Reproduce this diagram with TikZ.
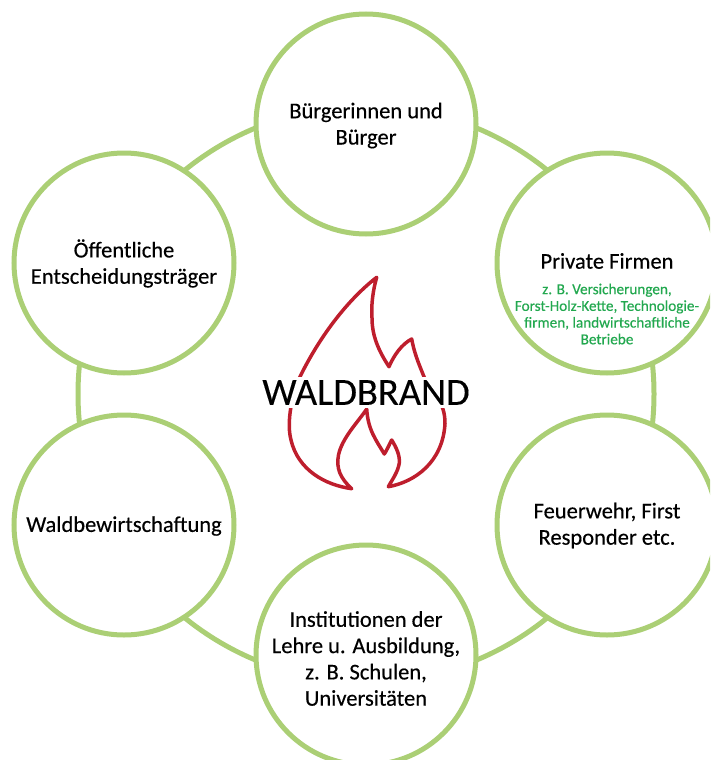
\documentclass[tikz,border=0pt]{standalone}
\usepackage{fontspec}
\setmainfont{Carlito}
\newfontfamily\medfont[FakeBold=0.35]{Carlito}
\newfontfamily\titlefont[FakeBold=0.2]{Carlito}
\definecolor{ringgreen}{HTML}{ABCF75}
\definecolor{textgreen}{HTML}{22A84F}
\definecolor{flamered}{HTML}{BE1E2D}
\tikzset{
  actor/.style={circle,draw=ringgreen,line width=5pt,fill=white,minimum size=220pt,inner sep=0pt},
  caption/.style={align=center,inner sep=0pt,text=black,font=\medfont\fontsize{22.5}{26.3}\selectfont},
  ring/.style={circle,draw=ringgreen,line width=5pt,minimum size=576pt,inner sep=0pt},
  flame/.style={draw=flamered,line width=3.5pt,line join=round},
  title/.style={fill=white,inner xsep=0pt,inner ysep=0pt,minimum width=206pt,minimum height=31pt,font=\titlefont\fontsize{38.5}{38.5}\selectfont,text=black},
  sub/.style={align=center,inner sep=0pt,text=textgreen,font=\medfont\fontsize{15.2}{16.7}\selectfont}
}
\begin{document}
\begin{tikzpicture}[x=1pt,y=-1pt]
\useasboundingbox (0,0) rectangle (710,760);
\clip (0,0) rectangle (710,760);
\node[ring] (R) at (366,394) {};
\node[actor] (A) at (366,124) {};
\node[actor] (B) at (607,263) {};
\node[actor] (C) at (607,525) {};
\node[actor] (D) at (366,655) {};
\node[actor] (E) at (124,525) {};
\node[actor] (F) at (124,263) {};
\node[caption] (A1) at (366,125.5) {Bürgerinnen und\\Bürger};
\node[caption] (B1) at (607,261) {Private Firmen};
\node[sub] (B2) at (607,314) {z. B. Versicherungen,\\Forst-Holz-Kette, Technologie-\\firmen, landwirtschaftliche\\Betriebe};
\node[caption] (C1) at (607,525.5) {Feuerwehr, First\\Responder etc.};
\node[caption] (D1) at (366,658.5) {Institutionen der\\Lehre u. Ausbildung,\\z. B. Schulen,\\Universitäten};
\node[caption] (E1) at (124,526) {Waldbewirtschaftung};
\node[caption] (F1) at (124,263.5) {Öffentliche\\Entscheidungsträger};
\draw[flame] (376.7,277.3) .. controls (345,302) and (318,340) .. (300,376.7)
  .. controls (290,400) and (287,425) .. (291,440)
  .. controls (298,470) and (325,485) .. (351.7,488.7)
  .. controls (340,478) and (336,468) .. (338.5,455)
  .. controls (342,438) and (358,422) .. (366.7,409)
  .. controls (368,430) and (376,440) .. (384.3,454)
  .. controls (387,450) and (389,445) .. (391.7,440)
  .. controls (396,447) and (400,455) .. (399.3,463)
  .. controls (398,472) and (392,480) .. (388.3,486.7)
  .. controls (415,482) and (443,462) .. (445,423.3)
  .. controls (445,400) and (432,395) .. (424,376.7)
  .. controls (418,362) and (414,352) .. (411.7,339)
  .. controls (402,344) and (394,355) .. (389,366.7)
  .. controls (378,350) and (372,335) .. (372,318)
  .. controls (371,305) and (373,290) .. (376.7,277.3) -- cycle;
\node[title] (T) at (366,392.5) {WALDBRAND};
\end{tikzpicture}
\end{document}
